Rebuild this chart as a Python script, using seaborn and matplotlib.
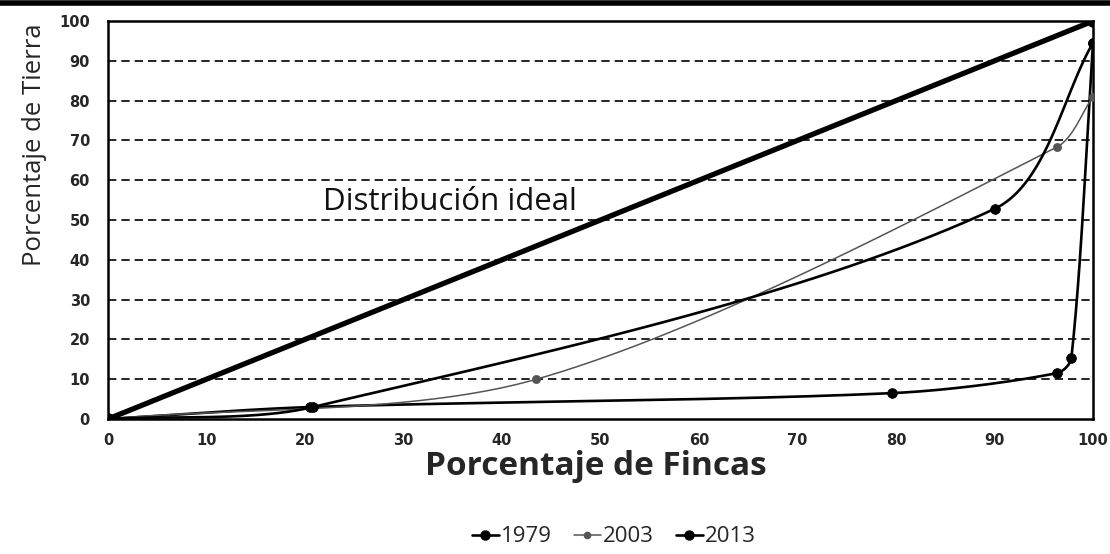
"""
curva de Lorenz - distribucion de la tierra
"""

import numpy as np
import pandas as pd
import seaborn as sns
import matplotlib.pyplot as plt
from matplotlib.lines import Line2D

# values (x = % fincas, y = % tierra)
ideal_x = [0, 100]
ideal_y = [0, 100]

x_1979 = [0, 20.5, 79.6, 96.3, 97.8, 100]
y_1979 = [0, 3.0, 6.5, 11.5, 15.3, 94.5]

x_2003 = [0, 43.5, 96.3, 100]
y_2003 = [0, 10.0, 68.3, 81.0]

x_2013 = [0, 20.8, 90.0, 100]
y_2013 = [0, 3.0, 52.8, 94.5]

years = ["1979", "2003", "2013"]
y_ticks = [0, 10, 20, 30, 40, 50, 60, 70, 80, 90, 100]
x_ticks = [0, 10, 20, 30, 40, 50, 60, 70, 80, 90, 100]


def smooth(xs, ys, n=40, k=0.3, sx=9.85, sy=3.98):
    # smoothed line (bezier, handles scaled by segment length), done in pixel-like units
    p = np.column_stack([np.asarray(xs, float) * sx, np.asarray(ys, float) * sy])
    tang = []
    for i in range(len(p)):
        a = p[i - 1] if i > 0 else p[i]
        b = p[i + 1] if i + 1 < len(p) else p[i]
        d = b - a
        tang.append(d / np.hypot(*d))
    out = [p[0]]
    t = np.linspace(0, 1, n)[1:, None]
    for i in range(len(p) - 1):
        L = np.hypot(*(p[i + 1] - p[i]))
        c1 = p[i] + tang[i] * L * k
        c2 = p[i + 1] - tang[i + 1] * L * k
        seg = ((1 - t) ** 3 * p[i] + 3 * (1 - t) ** 2 * t * c1
               + 3 * (1 - t) * t ** 2 * c2 + t ** 3 * p[i + 1])
        out.extend(seg)
    out = np.array(out)
    return pd.DataFrame({"x": out[:, 0] / sx, "y": out[:, 1] / sy})


sns.set_style("white")
plt.rcParams['font.family'] = ['Open Sans', 'DejaVu Sans']

fig = plt.figure(figsize=(11.1, 5.54), dpi=100)
ax = fig.add_axes([0.0973, 0.2437, 0.8874, 0.7183])

# dashed grid
for v in y_ticks[1:-1]:
    ax.axhline(v, color="black", lw=1.2, ls=(0, (5, 3)), zorder=1)

# ideal line
sns.lineplot(x=ideal_x, y=ideal_y, ax=ax, color="black", lw=3.8, zorder=5)
sns.scatterplot(x=ideal_x, y=ideal_y, ax=ax, color="black", s=70, zorder=6, edgecolor="black")

series = [(x_1979, y_1979, "black", 1.9, 50),
          (x_2003, y_2003, "#555555", 1.1, 35),
          (x_2013, y_2013, "black", 1.9, 50)]
for xs, ys, col, lw, ms in series:
    df = smooth(xs, ys)
    sns.lineplot(data=df, x="x", y="y", sort=False, estimator=None, ax=ax,
                 color=col, lw=lw, zorder=4)
    sns.scatterplot(x=xs[1:], y=ys[1:], ax=ax, color=col, s=ms, zorder=6,
                    edgecolor=col, linewidth=0.5)

ax.text(21.8, 52.5, "Distribución ideal", fontsize=22.5, color="#111111",
        va="baseline", zorder=7)

ax.set_xlim(0, 100)
ax.set_ylim(0, 100)
ax.set_xticks(x_ticks)
ax.set_yticks(y_ticks)
ax.set_xticklabels([str(v) for v in x_ticks], fontsize=10.5, fontweight="bold", family="DejaVu Sans")
ax.set_yticklabels([str(v) for v in y_ticks], fontsize=10.5, fontweight="bold", family="DejaVu Sans")
ax.tick_params(axis="y", length=0, pad=13)
ax.tick_params(axis="x", length=0, pad=10)
for s in ax.spines.values():
    s.set_color("black")
    s.set_linewidth(1.8)

ax.set_xlabel("Porcentaje de Fincas", fontsize=24, fontweight="bold")
ax.xaxis.set_label_coords(0.495, -0.078)
ax.set_ylabel("Porcentaje de Tierra", fontsize=18.5)
ax.yaxis.set_label_coords(-0.062, 0.69)

handles = [Line2D([], [], color="black", lw=1.9, marker="o", ms=6.5),
           Line2D([], [], color="#555555", lw=1.1, marker="o", ms=4.5),
           Line2D([], [], color="black", lw=1.9, marker="o", ms=6.5)]
fig.legend(handles, years, loc="center", bbox_to_anchor=(0.553, 0.031), ncol=3,
           frameon=False, fontsize=16, handlelength=1.2, handletextpad=0.1,
           columnspacing=1.0)

# black rule along the top of the page
fig.add_artist(Line2D([0, 1], [0.995, 0.995], color="black", lw=4))

fig.savefig("out.png", dpi=100)
